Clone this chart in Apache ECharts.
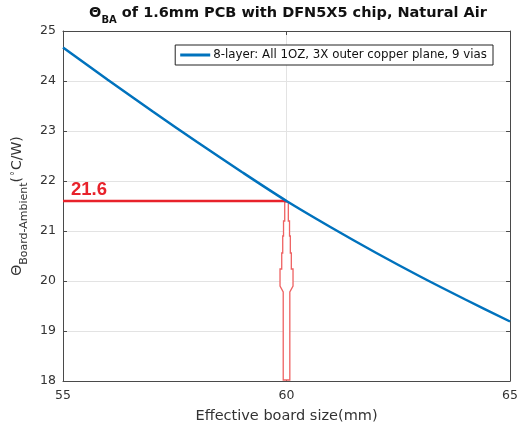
<!DOCTYPE html>
<html>
<head>
<meta charset="utf-8">
<style>
  html, body { margin: 0; padding: 0; background: #fff; }
  #chart { width: 521px; height: 429px; }
</style>
<script src="https://cdn.jsdelivr.net/npm/echarts@6/dist/echarts.min.js"></script>
</head>
<body>
<div id="chart"></div>
<script>
// Board-to-ambient thermal resistance vs effective board size
const boardSize = [55, 56, 57, 58, 59, 60, 61, 62, 63, 64, 65];
const thetaBA = [24.67, 24.025, 23.395, 22.78, 22.18, 21.60, 21.07, 20.565, 20.085, 19.63, 19.19];
const seriesName = '8-layer: All 1OZ, 3X outer copper plane, 9 vias';

// highlighted reading
const markSize = 60;
const markTheta = 21.6;

// axis ranges
const xRange = [55, 65, 5];
const yRange = [18, 25, 1];

const FONT = 'DejaVu Sans';
const AXIS_COLOR = '#4a4a4a';
const TEXT_COLOR = '#333';

const chart = echarts.init(document.getElementById('chart'), null, { renderer: 'canvas' });

const curve = boardSize.map((x, i) => [x, thetaBA[i]]);

const baseAxis = {
  axisLine: { show: true, lineStyle: { color: AXIS_COLOR, width: 1 } },
  axisTick: { show: true, inside: true, length: 4, lineStyle: { color: AXIS_COLOR } },
  splitLine: { show: false }
};

const option = {
  animation: false,
  backgroundColor: '#fff',
  title: {
    left: 283, top: 1, textAlign: 'center',
    text: '{t|Θ}{s|BA}{t| of 1.6mm PCB with DFN5X5 chip, Natural Air}',
    textStyle: {
      rich: {
        t: { fontFamily: FONT, fontSize: 14.5, fontWeight: 'bold', color: '#111', lineHeight: 19, verticalAlign: 'top' },
        s: { fontFamily: FONT, fontSize: 10, fontWeight: 'bold', color: '#111', lineHeight: 12, verticalAlign: 'bottom', padding: [9, 0, 0, 0] }
      }
    }
  },
  grid: { left: 63, right: 10, top: 31, bottom: 46, containLabel: false },
  legend: {
    right: 28, top: 45,
    padding: [4, 6, 4, 5],
    itemGap: 4,
    backgroundColor: '#fff',
    borderColor: '#222', borderWidth: 1, borderRadius: 0,
    itemWidth: 30, itemHeight: 3, icon: 'rect',
    textStyle: { fontFamily: FONT, fontSize: 11.8, color: '#111', padding: [0, 0, 0, -2] },
    data: [seriesName]
  },
  xAxis: [
    Object.assign({}, baseAxis, {
      type: 'value', min: xRange[0], max: xRange[1], interval: xRange[2],
      name: 'Effective board size(mm)', nameLocation: 'middle', nameGap: 28,
      nameTextStyle: { fontFamily: FONT, fontSize: 14.5, color: TEXT_COLOR },
      axisLabel: { fontFamily: FONT, fontSize: 12.5, color: TEXT_COLOR, margin: 8 },
      splitLine: { show: true, lineStyle: { color: '#e3e3e3', width: 1 } }
    }),
    Object.assign({}, baseAxis, {
      type: 'value', position: 'top', min: xRange[0], max: xRange[1], interval: xRange[2],
      axisLabel: { show: false }
    })
  ],
  yAxis: [
    Object.assign({}, baseAxis, {
      type: 'value', min: yRange[0], max: yRange[1], interval: yRange[2],
      name: '{t|Θ}{s|Board-Ambient}{t|(}{p|°}{t|C/W)}',
      nameLocation: 'middle', nameRotate: 90, nameGap: 31,
      nameTextStyle: {
        rich: {
          t: { fontFamily: FONT, fontSize: 14, color: TEXT_COLOR, lineHeight: 19, verticalAlign: 'top' },
          s: { fontFamily: FONT, fontSize: 11, color: TEXT_COLOR, lineHeight: 13, verticalAlign: 'bottom', padding: [8, 0, 0, 0] },
          p: { fontFamily: FONT, fontSize: 10, color: TEXT_COLOR, lineHeight: 12, verticalAlign: 'top', padding: [0, 1, 0, 1] }
        }
      },
      axisLabel: { fontFamily: FONT, fontSize: 12.5, color: TEXT_COLOR, margin: 7 },
      splitLine: { show: true, lineStyle: { color: '#e3e3e3', width: 1 } }
    }),
    Object.assign({}, baseAxis, {
      type: 'value', position: 'right', min: yRange[0], max: yRange[1], interval: yRange[2],
      axisLabel: { show: false }
    })
  ],
  series: [
    {
      // hollow upward arrow from the x axis to the reading point
      type: 'custom',
      z: 3,
      silent: true,
      data: [[markSize, markTheta, yRange[0]]],
      renderItem: function (params, api) {
        const tip = api.coord([api.value(0), api.value(1)]);
        const base = api.coord([api.value(0), api.value(2)]);
        const cx = tip[0];
        const ty = tip[1] + 1;
        const by = base[1] - 1;
        // stepped arrow head, then a narrow shaft
        const steps = [[0, 1.8], [19, 3], [34, 3.8], [51, 4.8], [67, 6.5]];
        const headEnd = 84, shaftHalf = 3.3;
        const right = [[cx, ty]];
        steps.forEach(function (s, i) {
          const y0 = ty + s[0];
          const y1 = i + 1 < steps.length ? ty + steps[i + 1][0] : ty + headEnd;
          right.push([cx + s[1], y0]);
          right.push([cx + s[1], y1]);
        });
        right.push([cx + shaftHalf, ty + headEnd + 6]);
        right.push([cx + shaftHalf, by]);
        const left = right.slice(1).reverse().map(function (p) { return [2 * cx - p[0], p[1]]; });
        return {
          type: 'polygon',
          shape: { points: right.concat(left) },
          style: { fill: '#fff', stroke: '#ee6262', lineWidth: 1.3 }
        };
      }
    },
    {
      // horizontal guide from the y axis to the reading point
      type: 'line',
      z: 4,
      silent: true,
      symbol: 'circle', symbolSize: 0, showSymbol: true,
      lineStyle: { color: '#e8222b', width: 2.6 },
      data: [
        {
          value: [xRange[0], markTheta],
          label: {
            show: true, position: [8, -21], align: 'left',
            formatter: function (p) { return p.value[1].toFixed(1); },
            fontFamily: 'Liberation Sans', fontSize: 18.5, fontWeight: 'bold', color: '#e8222b'
          }
        },
        [markSize, markTheta]
      ]
    },
    {
      name: seriesName,
      type: 'line',
      z: 5,
      smooth: 0.3,
      showSymbol: false,
      color: '#0072BD',
      lineStyle: { color: '#0072BD', width: 2.5 },
      data: curve
    }
  ]
};

chart.setOption(option);
</script>
</body>
</html>
